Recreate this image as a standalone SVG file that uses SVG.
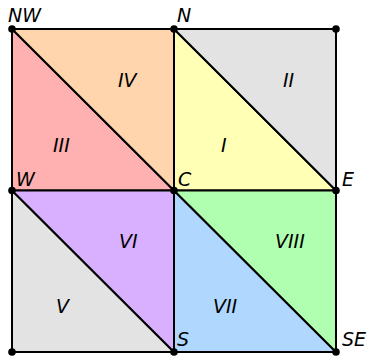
<svg xmlns="http://www.w3.org/2000/svg" width="367" height="356" viewBox="0 0 367 356">
<style>
.tri{stroke:#000;stroke-width:2;stroke-linejoin:round}
.lbl{font-family:"DejaVu Sans",sans-serif;font-style:oblique;font-size:19px;fill:#000}
.dot{fill:#000}
</style>
<rect width="367" height="356" fill="#fff"/>
<g id="tri-I"><polygon class="tri" fill="#ffffb5" points="174,29 174,190.5 336,190.5"/><text class="lbl" x="221" y="152">I</text></g>
<g id="tri-II"><polygon class="tri" fill="#e3e3e3" points="174,29 336,29 336,190.5"/><text class="lbl" x="283" y="87">II</text></g>
<g id="tri-III"><polygon class="tri" fill="#ffb0b0" points="12,29 12,190.5 174,190.5"/><text class="lbl" x="53" y="152">III</text></g>
<g id="tri-IV"><polygon class="tri" fill="#ffd5ad" points="12,29 174,29 174,190.5"/><text class="lbl" x="118" y="87">IV</text></g>
<g id="tri-V"><polygon class="tri" fill="#e3e3e3" points="12,190.5 12,352 174,352"/><text class="lbl" x="56" y="313">V</text></g>
<g id="tri-VI"><polygon class="tri" fill="#d8b0ff" points="12,190.5 174,190.5 174,352"/><text class="lbl" x="119" y="248">VI</text></g>
<g id="tri-VII"><polygon class="tri" fill="#b0d8ff" points="174,190.5 174,352 336,352"/><text class="lbl" x="213" y="313">VII</text></g>
<g id="tri-VIII"><polygon class="tri" fill="#b0ffb0" points="174,190.5 336,190.5 336,352"/><text class="lbl" x="275" y="248">VIII</text></g>
<g id="connectors"></g>
<g id="pt-NW"><circle class="dot" cx="12" cy="29" r="3.8"/><text class="lbl" x="8" y="21.5">NW</text></g>
<g id="pt-N"><circle class="dot" cx="174" cy="29" r="3.8"/><text class="lbl" x="177" y="21.5">N</text></g>
<g id="pt-NE"><circle class="dot" cx="336" cy="29" r="3.8"/></g>
<g id="pt-W"><circle class="dot" cx="12" cy="190.5" r="3.8"/><text class="lbl" x="16" y="186">W</text></g>
<g id="pt-C"><circle class="dot" cx="174" cy="190.5" r="3.8"/><text class="lbl" x="178" y="186">C</text></g>
<g id="pt-E"><circle class="dot" cx="336" cy="190.5" r="3.8"/><text class="lbl" x="342" y="186">E</text></g>
<g id="pt-SW"><circle class="dot" cx="12" cy="352" r="3.8"/></g>
<g id="pt-S"><circle class="dot" cx="174" cy="352" r="3.8"/><text class="lbl" x="177" y="346">S</text></g>
<g id="pt-SE"><circle class="dot" cx="336" cy="352" r="3.8"/><text class="lbl" x="342" y="346">SE</text></g>
</svg>
